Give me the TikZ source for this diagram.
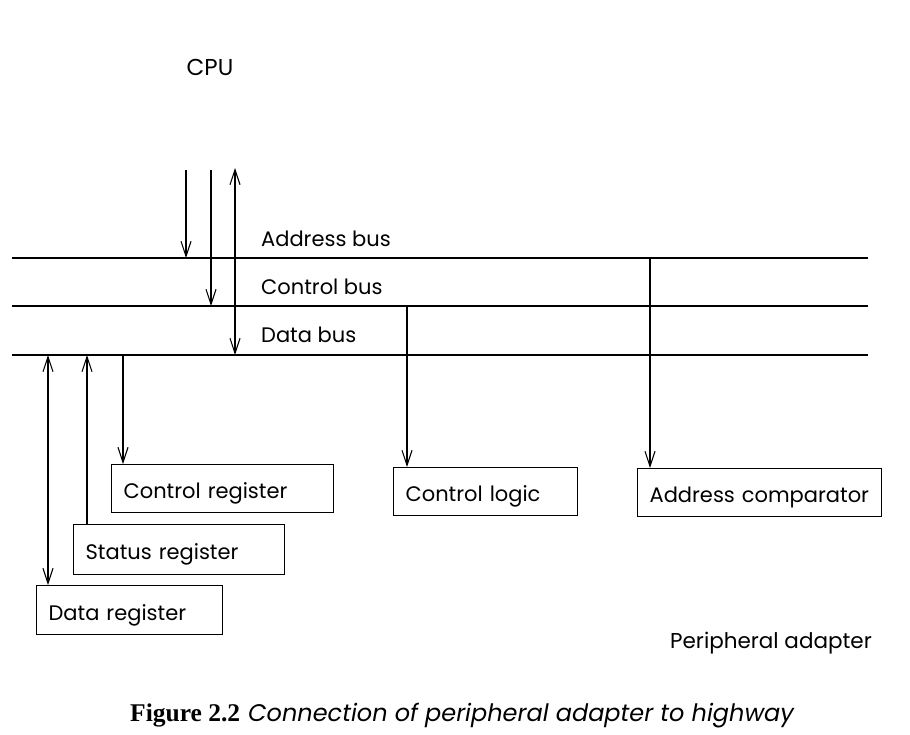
\documentclass[tikz,border=0pt]{standalone}
\usepackage{fontspec}
\setmainfont{Poppins}
\newfontfamily\capserif{Liberation Serif}
\usetikzlibrary{arrows.meta}
\tikzset{
  lbl/.style={font=\fontsize{21}{24}\selectfont, inner sep=0pt, anchor=west},
  bus/.style={line width=1.4pt},
  conn/.style={line width=1.2pt},
  tip/.style={-{Straight Barb[length=15pt,width=10pt,line width=1.1pt]}},
  dtip/.style={{Straight Barb[length=15pt,width=10pt,line width=1.1pt]}-{Straight Barb[length=15pt,width=10pt,line width=1.1pt]}},
  regbox/.style={draw, line width=1.2pt, inner xsep=12pt, inner ysep=0pt, align=left, anchor=north west,
     text height=20pt, text depth=0pt, font=\fontsize{21}{24}\selectfont},
}
\begin{document}
\begin{tikzpicture}[x=1pt,y=-1pt]
\useasboundingbox (0,0) rectangle (910,734);
% labels
\node[lbl, anchor=center, font=\fontsize{23}{26}\selectfont] (cpu) at (210,67) {CPU};
\node[lbl] (ablbl) at (261,239) {Address bus};
\node[lbl] (cblbl) at (261,287) {Control bus};
\node[lbl] (dblbl) at (261,335) {Data bus};
% buses
\coordinate (abL) at (12,258); \coordinate (abR) at (868,258);
\coordinate (cbL) at (12,306); \coordinate (cbR) at (868,306);
\coordinate (dbL) at (12,355); \coordinate (dbR) at (868,355);
\draw[bus] (abL) -- (abR);
\draw[bus] (cbL) -- (cbR);
\draw[bus] (dbL) -- (dbR);
% CPU connections
\coordinate (ca) at (186,170);
\coordinate (cc) at (211,170);
\coordinate (cd) at (235,168);
\draw[conn,tip] (ca) -- (ca |- abL);
\draw[conn,tip] (cc) -- (cc |- cbL);
\draw[conn,dtip] (cd) -- (cd |- dbL);
% boxes
\node[regbox, minimum height=48pt, text width=198pt] (creg) at (111,464) {Control register};
\node[regbox, minimum height=50pt, text width=187pt] (sreg) at (73,524) {Status register};
\node[regbox, minimum height=49pt, text width=162pt] (dreg) at (36,585) {Data register};
\node[regbox, minimum height=48pt, text width=160pt] (clog) at (393,467) {Control logic};
\node[regbox, minimum height=48pt, text width=220pt] (acmp) at (637,468) {Address comparator};
% adapter connections
\coordinate (td) at (48,355);
\coordinate (ts) at (87,355);
\coordinate (tc) at (123,355);
\coordinate (tl) at (407,306);
\coordinate (ta) at (650,258);
\draw[conn,dtip] (td) -- (td |- dreg.north);
\draw[conn,tip] (ts |- sreg.north) -- (ts);
\draw[conn,tip] (tc) -- (tc |- creg.north);
\draw[conn,tip] (tl) -- (tl |- clog.north);
\draw[conn,tip] (ta) -- (ta |- acmp.north);
% bottom texts
\node[lbl, anchor=east, font=\fontsize{21.5}{24}\selectfont] (padp) at (872,643) {Peripheral adapter};
\node[inner sep=0pt, anchor=west] (cap) at (130,716) {{\capserif\bfseries\fontsize{25.5}{28}\selectfont Figure 2.2}\hspace{8pt}{\itshape\fontsize{24}{26}\selectfont Connection of peripheral adapter to highway}};
\end{tikzpicture}
\end{document}
